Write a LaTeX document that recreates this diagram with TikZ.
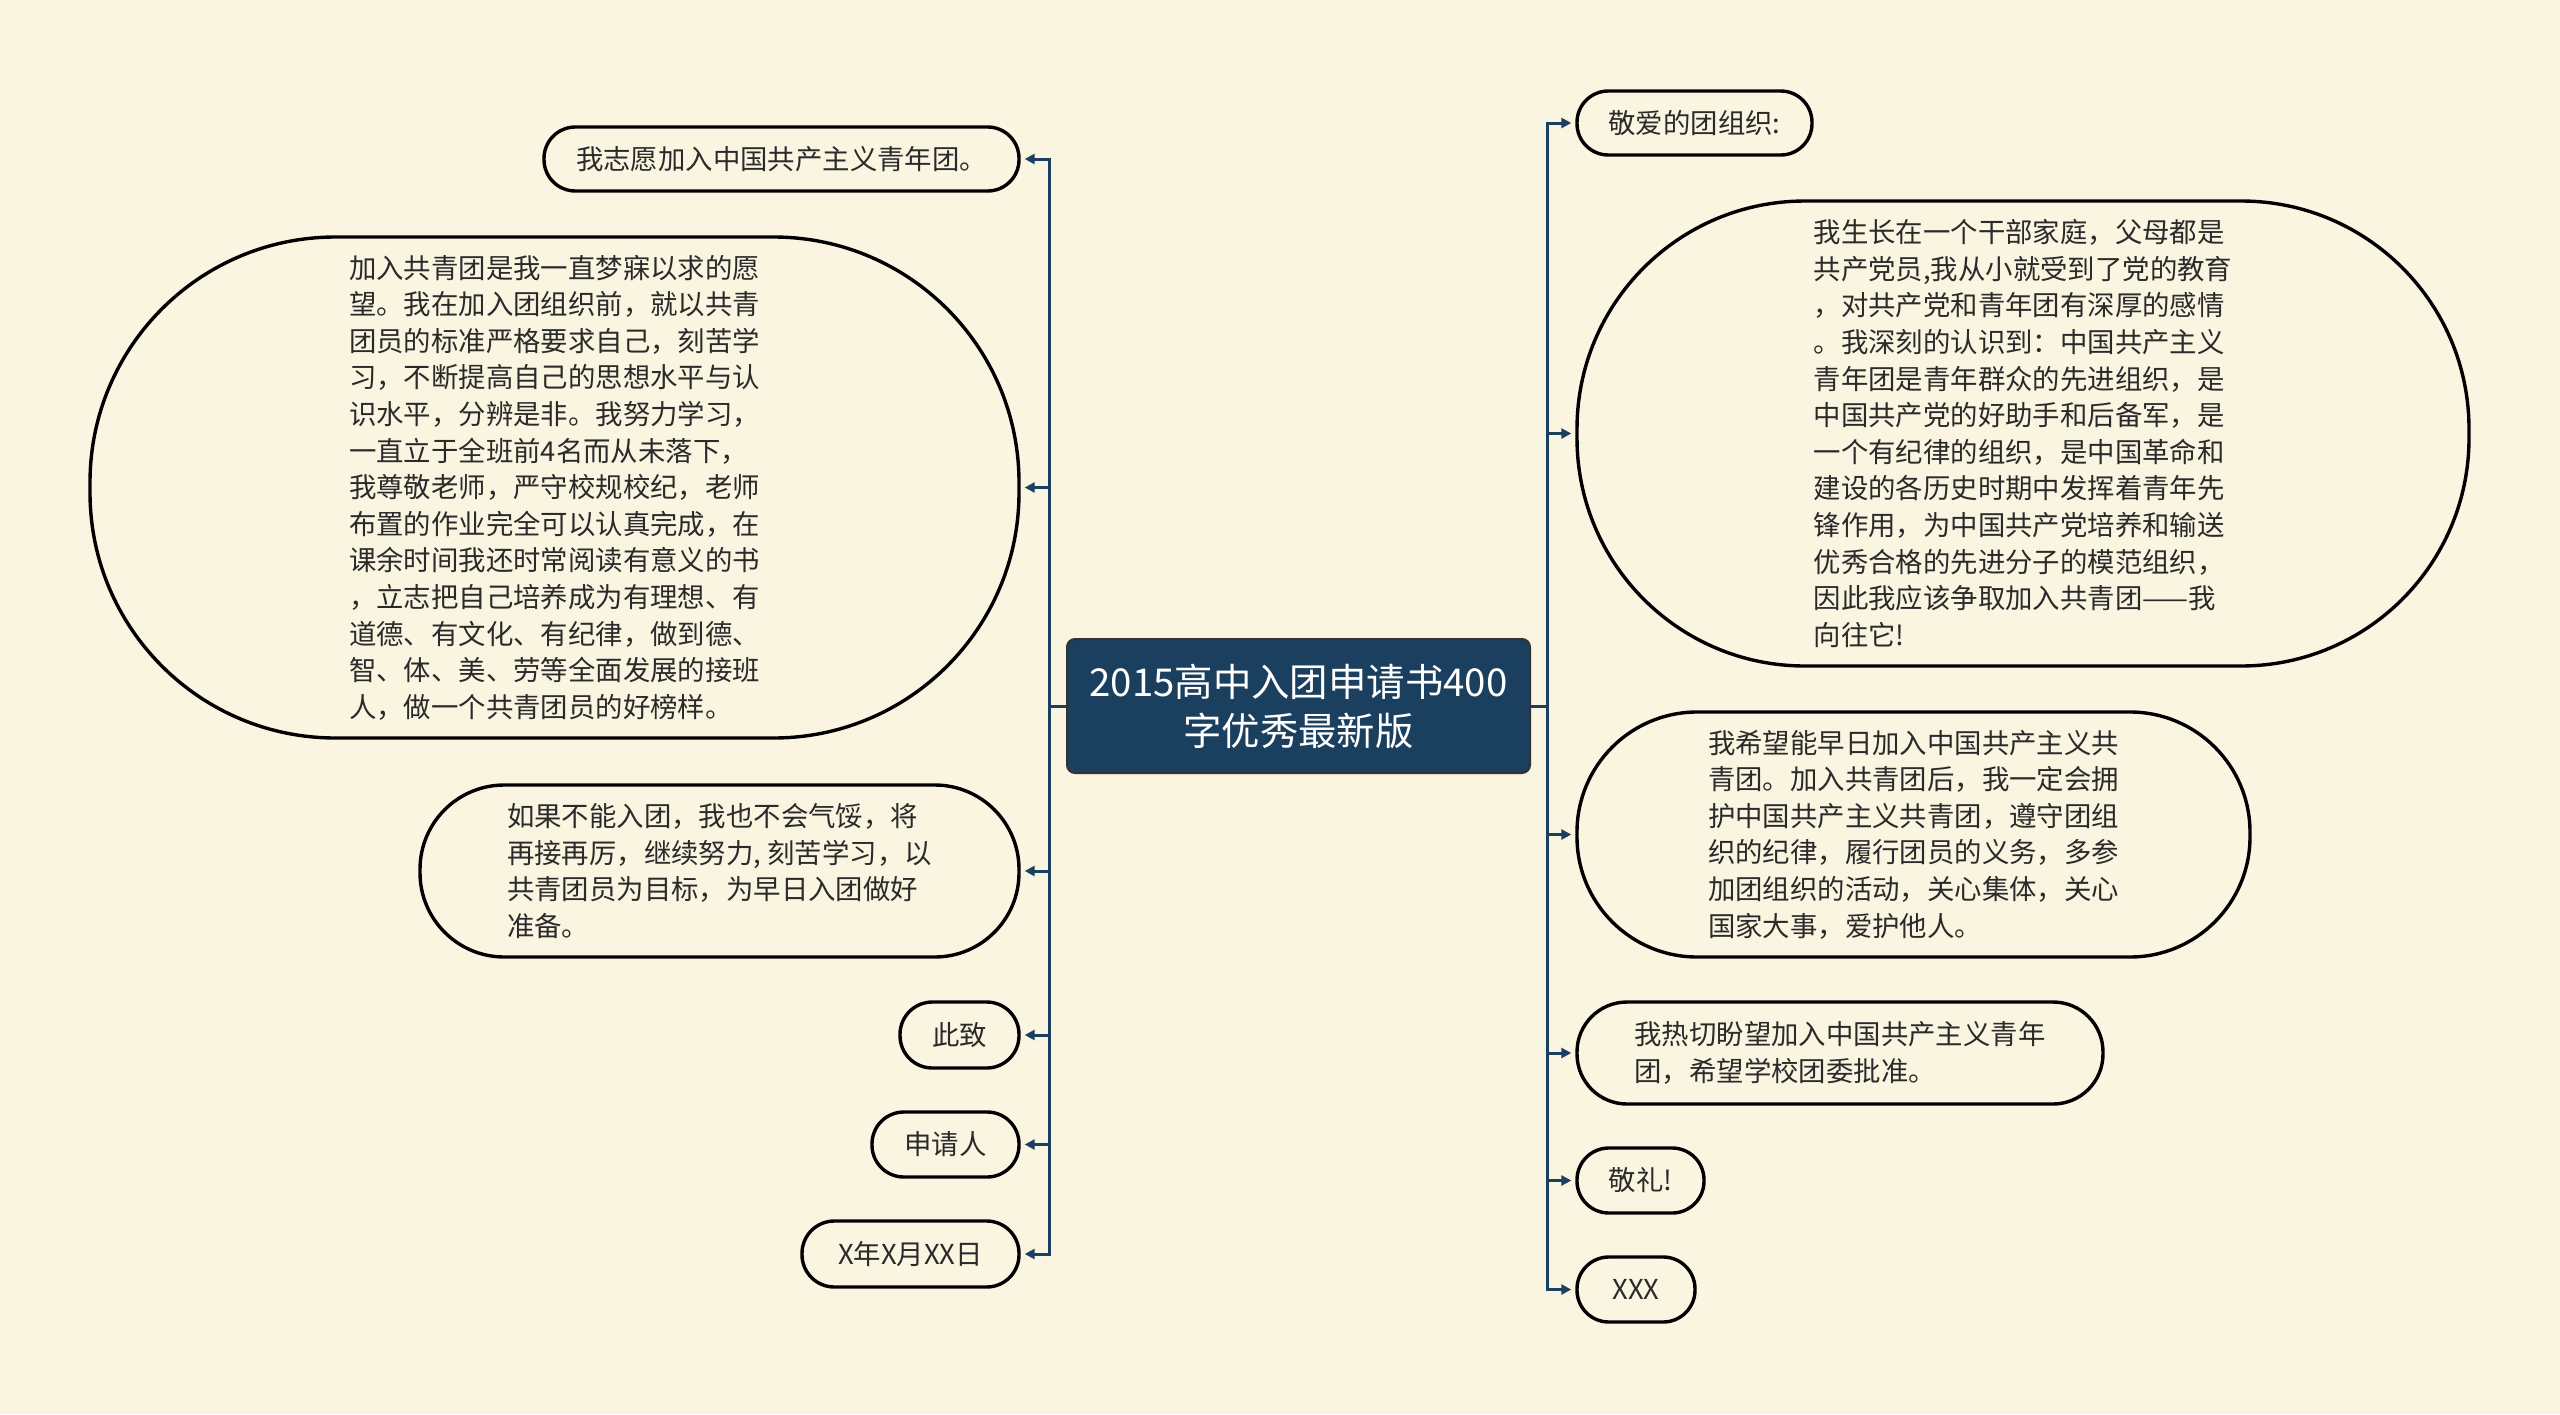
\documentclass[tikz,border=0pt]{standalone}
\usepackage{fontspec}
\usepackage{xcolor}
\usepackage{tikz}
\usetikzlibrary{arrows.meta}
\setmainfont{Noto Sans CJK SC}
\definecolor{paper}{HTML}{FAF5E1}
\definecolor{navy}{HTML}{1B3F5E}
\definecolor{ink}{HTML}{2A2A2A}

\begin{document}
\begin{tikzpicture}[
    x=0.5pt, y=-0.5pt,
    topic/.style={draw=black, line width=1.7pt, fill=paper, text=ink, align=left, inner sep=0pt,
      font=\fontsize{13.7pt}{18.3pt}\selectfont},
    leaf/.style 2 args={topic, minimum width=#1, minimum height=#2, rounded corners=0.49*#2},
    root/.style={draw=black!80, line width=1pt, fill=navy, text=white, align=center, rounded corners=4pt,
      minimum width=231.5pt, minimum height=67pt, font=\fontsize{19.2pt}{24.5pt}\selectfont},
    conn/.style={draw=navy, line width=1.5pt, -{Triangle[length=5pt,width=5pt]}, shorten >=2pt}
  ]
  \useasboundingbox[fill=paper] (0,0) rectangle (2560,1414);

  \node[root] (root) at (1298.5,706) {2015高中入团申请书400\\字优秀最新版};

  % left side
  \node[leaf={237.5pt}{32pt}] (aim) at (781.5,159) {我志愿加入中国共产主义青年团。};
  \node[leaf={464.5pt}{250.5pt}] (dream) at (554.5,487.5) {加入共青团是我一直梦寐以求的愿\\望。我在加入团组织前，就以共青\\团员的标准严格要求自己，刻苦学\\习，不断提高自己的思想水平与认\\识水平，分辨是非。我努力学习，\\一直立于全班前4名而从未落下，\\我尊敬老师，严守校规校纪，老师\\布置的作业完全可以认真完成，在\\课余时间我还时常阅读有意义的书\\，立志把自己培养成为有理想、有\\道德、有文化、有纪律，做到德、\\智、体、美、劳等全面发展的接班\\人，做一个共青团员的好榜样。};
  \node[leaf={299.5pt}{86pt}] (ifnot) at (719.5,871) {如果不能入团，我也不会气馁，将\\再接再厉，继续努力, 刻苦学习，以\\共青团员为目标，为早日入团做好\\准备。};
  \node[leaf={59.5pt}{33pt}] (salute) at (959.5,1035) {此致};
  \node[leaf={73.5pt}{32.5pt}] (applicant) at (945.5,1144.5) {申请人};
  \node[leaf={108.5pt}{33pt}] (date) at (910.5,1254) {X年X月XX日};

  % right side
  \node[leaf={117.5pt}{32pt}] (dear) at (1694.5,123) {敬爱的团组织:};
  \node[leaf={446pt}{232.5pt}] (family) at (2023,433.5) {我生长在一个干部家庭，父母都是\\共产党员,我从小就受到了党的教育\\，对共产党和青年团有深厚的感情\\。我深刻的认识到：中国共产主义\\青年团是青年群众的先进组织，是\\中国共产党的好助手和后备军，是\\一个有纪律的组织，是中国革命和\\建设的各历史时期中发挥着青年先\\锋作用，为中国共产党培养和输送\\优秀合格的先进分子的模范组织，\\因此我应该争取加入共青团——我\\向往它!};
  \node[leaf={336.5pt}{122.5pt}] (hope) at (1913.5,834.5) {我希望能早日加入中国共产主义共\\青团。加入共青团后，我一定会拥\\护中国共产主义共青团，遵守团组\\织的纪律，履行团员的义务，多参\\加团组织的活动，关心集体，关心\\国家大事，爱护他人。};
  \node[leaf={263pt}{51pt}] (eager) at (1840,1053) {我热切盼望加入中国共产主义青年\\团，希望学校团委批准。};
  \node[leaf={63.5pt}{32.5pt}] (regards) at (1640.5,1180.5) {敬礼!};
  \node[leaf={59pt}{32.5pt}] (signer) at (1636,1289.5) {XXX};

  \foreach \n in {aim,dream,ifnot,salute,applicant,date}
    \draw[conn] (root.west) -- ++(-17,0) |- (\n.east);
  \foreach \n in {dear,family,hope,eager,regards,signer}
    \draw[conn] (root.east) -- ++(16,0) |- (\n.west);
\end{tikzpicture}
\end{document}
